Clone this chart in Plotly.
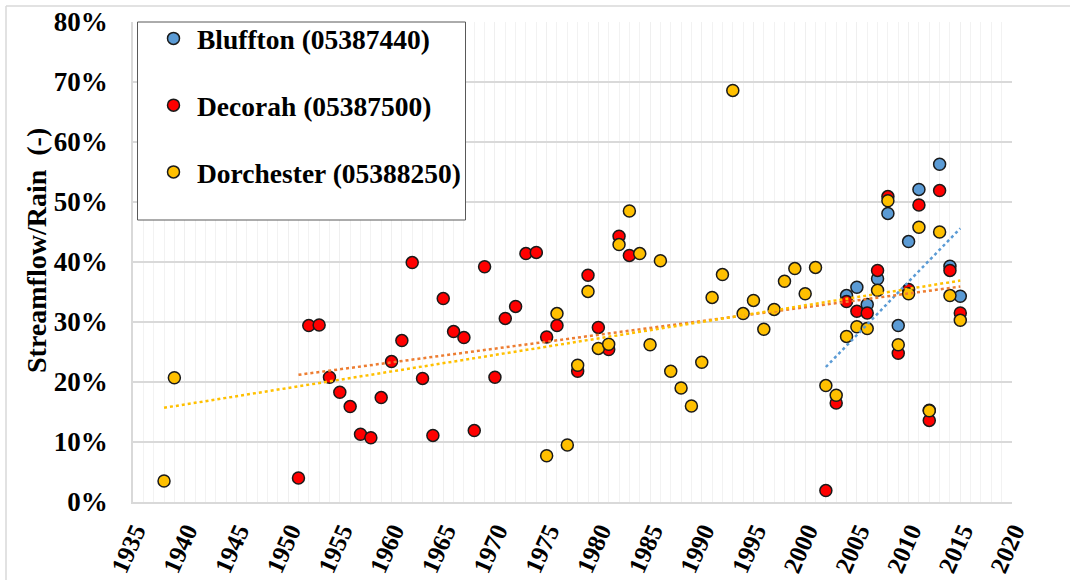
import plotly.graph_objects as go

# ---------------- data ----------------
bluffton_years = [2004, 2005, 2006, 2007, 2008, 2009, 2010, 2011, 2012, 2013, 2014, 2015]
bluffton_ratio = [34.4, 35.8, 32.9, 37.2, 48.1, 29.4, 43.4, 52.1, 15.3, 56.3, 39.3, 34.3]

decorah_years = [1951, 1952, 1953, 1954, 1955, 1956, 1957, 1958, 1959, 1960,
                 1961, 1962, 1963, 1964, 1965, 1966, 1967, 1968, 1969, 1970,
                 1971, 1972, 1973, 1974, 1975, 1976, 1978, 1979, 1980, 1981,
                 1982, 1983, 2002, 2003, 2004, 2005, 2006, 2007, 2008, 2009,
                 2010, 2011, 2012, 2013, 2014, 2015]
decorah_ratio = [4.0, 29.4, 29.5, 20.8, 18.3, 15.9, 11.3, 10.7, 17.4, 23.4,
                 26.9, 39.9, 20.6, 11.1, 33.9, 28.4, 27.4, 11.9, 39.2, 20.8,
                 30.6, 32.6, 41.4, 41.6, 27.5, 29.4, 21.8, 37.8, 29.1, 25.4,
                 44.3, 41.1, 1.9, 16.5, 33.4, 31.8, 31.5, 38.6, 50.9, 24.8,
                 35.4, 49.5, 13.6, 51.9, 38.6, 31.5]

dorchester_years = [1938, 1939, 1975, 1976, 1977, 1978, 1979, 1980, 1981, 1982,
                    1983, 1984, 1985, 1986, 1987, 1988, 1989, 1990, 1991, 1992,
                    1993, 1994, 1995, 1996, 1997, 1998, 1999, 2000, 2001, 2002,
                    2003, 2004, 2005, 2006, 2007, 2008, 2009, 2010, 2011, 2012,
                    2013, 2014, 2015]
dorchester_ratio = [3.5, 20.7, 7.7, 31.4, 9.5, 22.8, 35.1, 25.6, 26.3, 42.9,
                    48.5, 41.4, 26.2, 40.2, 21.8, 19.0, 16.0, 23.3, 34.1, 37.9,
                    68.6, 31.4, 33.6, 28.8, 32.1, 36.8, 38.9, 34.7, 39.1, 19.4,
                    17.8, 27.6, 29.2, 28.9, 35.3, 50.2, 26.2, 34.7, 45.8, 15.2,
                    45.0, 34.4, 30.3]

# linear trend lines (end points)
bluffton_trend_years = [2002, 2015]
bluffton_trend_ratio = [22.5, 45.6]
decorah_trend_years = [1951, 2015]
decorah_trend_ratio = [21.2, 35.9]
dorchester_trend_years = [1938, 2015]
dorchester_trend_ratio = [15.7, 36.9]

series_names = ["Bluffton (05387440)", "Decorah (05387500)", "Dorchester (05388250)"]
x_ticks = list(range(1935, 2021, 5))
y_ticks = [0, 10, 20, 30, 40, 50, 60, 70, 80]

# ---------------- styling ----------------
FONT = "Liberation Serif, Times New Roman, serif"
BLUE, RED, GOLD = "#5B9BD5", "#FF0000", "#FFC000"
TREND_BLUE, TREND_ORANGE, TREND_GOLD = "#5B9BD5", "#ED7D31", "#FFC000"

W, H = 1070, 580
ML, MR, MT, MB = 133, 58, 22, 78
PW, PH = W - ML - MR, H - MT - MB


def px_x(p):
    return (p - ML) / PW


def px_y(p):
    return (H - MB - p) / PH


def frac(vals):
    return [v / 100.0 for v in vals]


fig = go.Figure()

for name, xs, ys, col in [
    (series_names[0], bluffton_years, bluffton_ratio, BLUE),
    (series_names[1], decorah_years, decorah_ratio, RED),
    (series_names[2], dorchester_years, dorchester_ratio, GOLD),
]:
    fig.add_trace(go.Scatter(
        x=xs, y=frac(ys), mode="markers", name=name, legendgroup=name,
        marker=dict(size=12, color=col, line=dict(color="#1a1a1a", width=1.5)),
    ))

for xs, ys, col in [
    (bluffton_trend_years, bluffton_trend_ratio, TREND_BLUE),
    (decorah_trend_years, decorah_trend_ratio, TREND_ORANGE),
    (dorchester_trend_years, dorchester_trend_ratio, TREND_GOLD),
]:
    fig.add_trace(go.Scatter(
        x=xs, y=frac(ys), mode="lines", showlegend=False, hoverinfo="skip",
        line=dict(color=col, width=2.5, dash="dot"),
    ))

fig.update_layout(
    width=W, height=H,
    margin=dict(l=ML, r=MR, t=MT, b=MB, autoexpand=False),
    paper_bgcolor="white", plot_bgcolor="white",
    font=dict(family=FONT, size=26, color="black", weight="bold"),
    showlegend=True,
    legend=dict(
        x=px_x(150), y=px_y(14), xanchor="left", yanchor="top",
        bgcolor="rgba(0,0,0,0)", borderwidth=0,
        font=dict(family=FONT, size=27.5, color="black", weight="bold"),
        traceorder="grouped", tracegroupgap=28, itemsizing="trace",
        itemwidth=37,
    ),
    xaxis=dict(
        range=[1935, 2020], tickmode="array", tickvals=x_ticks,
        ticktext=[str(v) for v in x_ticks], tickangle=-66,
        showgrid=True, gridcolor="#EFEFEF", gridwidth=1,
        minor=dict(dtick=1, showgrid=True, gridcolor="#F2F2F2", gridwidth=1),
        showline=True, linecolor="#D9D9D9", linewidth=1.5,
        ticks="", ticklabelstandoff=3, ticklabelshift=2,
        zeroline=False,
        tickfont=dict(family=FONT, size=25, color="black", weight="bold"),
    ),
    yaxis=dict(
        range=[0, 0.8], tickmode="array", tickvals=frac(y_ticks),
        ticktext=[f"{v}%" for v in y_ticks],
        showgrid=True, gridcolor="#D9D9D9", gridwidth=1.5,
        showline=True, linecolor="#D9D9D9", linewidth=1.5,
        ticks="outside", ticklen=18, tickcolor="rgba(0,0,0,0)",
        zeroline=False,
        tickfont=dict(family=FONT, size=27, color="black", weight="bold"),
    ),
    shapes=[
        # legend box
        dict(type="rect", xref="paper", yref="paper",
             x0=px_x(137.5), x1=px_x(465.5), y0=px_y(220), y1=px_y(22),
             fillcolor="white", line=dict(color="#595959", width=1), layer="above"),
        # outer chart border (top and left visible)
        dict(type="line", xref="paper", yref="paper",
             x0=px_x(6), x1=px_x(1075), y0=px_y(6), y1=px_y(6),
             line=dict(color="#D9D9D9", width=1.5)),
        dict(type="line", xref="paper", yref="paper",
             x0=px_x(6), x1=px_x(6), y0=px_y(6), y1=px_y(590),
             line=dict(color="#D9D9D9", width=1.5)),
    ],
    annotations=[
        dict(text="Streamflow/Rain  (-)", textangle=-90, showarrow=False,
             xref="paper", yref="paper", x=px_x(36), y=px_y(251),
             xanchor="center", yanchor="middle",
             font=dict(family=FONT, size=28, color="black", weight="bold")),
    ],
)

fig.write_html(
    "out.html",
    config={"displayModeBar": False},
    post_script="document.body.style.margin='0px';document.body.style.overflow='hidden';",
)
